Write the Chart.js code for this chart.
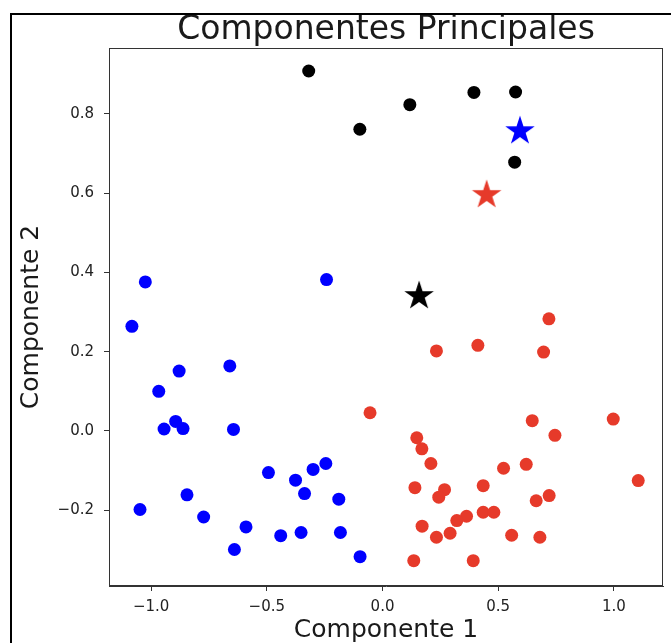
<!DOCTYPE html>
<html><head><meta charset="utf-8">
<script src="https://cdn.jsdelivr.net/npm/chart.js@4.4.1/dist/chart.umd.min.js"></script>
<style>
html,body{margin:0;padding:0;background:#fff;}
#wrap{position:relative;width:671px;height:643px;overflow:hidden;}
#frame{position:absolute;left:10px;top:13px;width:700px;height:700px;border-top:2px solid #000;border-left:2px solid #000;pointer-events:none;}
canvas{position:absolute;left:0;top:0;}
</style></head><body>
<div id="wrap"><canvas id="c" width="671" height="643"></canvas><div id="frame"></div></div>
<script>
const titleText = 'Componentes Principales';
const xLabel = 'Componente 1';
const yLabel = 'Componente 2';
const xTicks = [-1.0, -0.5, 0.0, 0.5, 1.0];
const yTicks = [-0.2, 0.0, 0.2, 0.4, 0.6, 0.8];

const blueX = [-1.025,-1.083,-0.242,-0.879,-0.660,-0.967,-0.894,-0.944,-0.862,-0.644,-0.493,-0.245,-0.300,-0.376,-0.337,-0.189,-0.845,-1.048,-0.773,-0.590,-0.440,-0.352,-0.182,-0.640,-0.097];
const blueY = [0.376,0.264,0.382,0.151,0.164,0.100,0.024,0.005,0.006,0.004,-0.105,-0.082,-0.097,-0.124,-0.158,-0.172,-0.161,-0.198,-0.217,-0.242,-0.264,-0.256,-0.256,-0.299,-0.317];

const redX = [0.719,0.233,0.412,0.696,-0.054,0.997,0.647,0.745,0.148,0.170,0.209,0.523,0.621,1.105,0.140,0.268,0.243,0.435,0.720,0.664,0.435,0.481,0.363,0.321,0.171,0.292,0.233,0.558,0.680,0.135,0.392];
const redY = [0.283,0.202,0.216,0.199,0.046,0.030,0.026,-0.011,-0.017,-0.045,-0.082,-0.094,-0.084,-0.125,-0.143,-0.148,-0.167,-0.138,-0.163,-0.176,-0.205,-0.205,-0.215,-0.226,-0.240,-0.258,-0.268,-0.263,-0.268,-0.327,-0.327];

const blackX = [-0.319,-0.098,0.118,0.395,0.575,0.571];
const blackY = [0.908,0.761,0.823,0.854,0.855,0.678];

const centroidX = [0.594,0.450,0.158];
const centroidY = [0.759,0.598,0.343];

const BLUE = '#0000ff', RED = '#e63a2a', BLACK = '#000000';
const centroidColors = [BLUE, RED, BLACK];
const FONT = "'DejaVu Sans', sans-serif";

function pts(xs, ys){ return xs.map((x,i)=>({x:x, y:ys[i]})); }
function fmt(v){ const a = Math.abs(v).toFixed(1); return (v < -1e-9 ? '\u2212' : '') + a; }
function makeStar(color){
  const S = 34, R = 15.5, r = R*0.382;
  const c = document.createElement('canvas'); c.width = S; c.height = S;
  const g = c.getContext('2d');
  g.beginPath();
  for (let i=0;i<10;i++){ const a = -Math.PI/2 + i*Math.PI/5; const rr = (i%2)? r : R; g.lineTo(S/2 + rr*Math.cos(a), S/2 + 1 + rr*Math.sin(a)); }
  g.closePath(); g.fillStyle = color; g.fill();
  return c;
}

const framePlugin = {
  id:'frame',
  afterDatasetsDraw(chart){
    const a = chart.chartArea, ctx = chart.ctx;
    ctx.save(); ctx.strokeStyle = '#333'; ctx.lineWidth = 1;
    ctx.strokeRect(Math.round(a.left)+0.5, Math.round(a.top)+0.5, Math.round(a.right-a.left)-1, Math.round(a.bottom-a.top)-1);
    ctx.restore();
  }
};

new Chart(document.getElementById('c'), {
  type:'scatter',
  data:{ datasets:[
    {label:'Cluster 0', data:pts(blueX, blueY), backgroundColor:BLUE, borderWidth:0, pointRadius:6.5},
    {label:'Cluster 1', data:pts(redX, redY), backgroundColor:RED, borderWidth:0, pointRadius:6.5},
    {label:'Cluster 2', data:pts(blackX, blackY), backgroundColor:BLACK, borderWidth:0, pointRadius:6.5},
    {label:'Centroides', data:pts(centroidX, centroidY), pointStyle:centroidColors.map(makeStar), backgroundColor:centroidColors, borderWidth:0, pointRadius:15}
  ]},
  options:{
    responsive:false, animation:false, devicePixelRatio:1,
    layout:{autoPadding:false, padding:{left:0,right:8,top:0,bottom:0}},
    plugins:{
      legend:{display:false}, tooltip:{enabled:false},
      title:{display:true, text:titleText, fullSize:false, color:'#1a1a1a', font:{family:FONT,size:33,weight:'normal',lineHeight:1.0}, padding:{top:14,bottom:1}}
    },
    scales:{
      x:{type:'linear', position:'bottom', min:-1.182, max:1.212,
        afterBuildTicks:s=>{ s.ticks = xTicks.map(v=>({value:v})); },
        afterFit:s=>{ s.height = 57; s.paddingLeft = 0; s.paddingRight = 0; },
        ticks:{callback:fmt, color:'#222', font:{family:FONT,size:15}, padding:7, maxRotation:0, autoSkip:false},
        grid:{display:true, drawOnChartArea:false, drawTicks:true, tickLength:5, tickColor:'#333', tickWidth:1},
        border:{display:true, color:'#333', width:1},
        title:{display:true, text:xLabel, color:'#1a1a1a', font:{family:FONT,size:25,lineHeight:1.0}, padding:{top:0,bottom:0}}
      },
      y:{type:'linear', position:'left', min:-0.391, max:0.966,
        afterBuildTicks:s=>{ s.ticks = yTicks.map(v=>({value:v})); },
        afterFit:s=>{ s.width = 109; s.paddingTop = 0; s.paddingBottom = 0; },
        ticks:{callback:fmt, color:'#222', font:{family:FONT,size:15}, padding:10, autoSkip:false},
        grid:{display:true, drawOnChartArea:false, drawTicks:true, tickLength:5, tickColor:'#333', tickWidth:1},
        border:{display:true, color:'#333', width:1},
        title:{display:true, text:yLabel, color:'#1a1a1a', font:{family:FONT,size:25,lineHeight:1.2}, padding:{top:16,bottom:0}}
      }
    }
  },
  plugins:[framePlugin]
});
</script>
</body></html>
